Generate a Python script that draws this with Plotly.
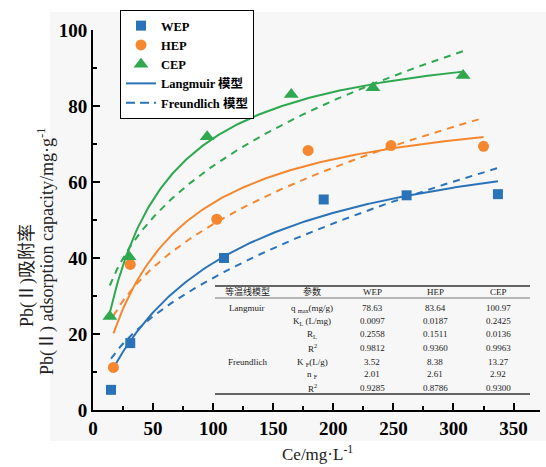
import numpy as np
import plotly.graph_objects as go

# ---------------- data ----------------
series_names = ["WEP", "HEP", "CEP"]
ce_wep = [15, 31, 109, 192, 261, 337]
q_wep = [5.3, 17.6, 40.0, 55.4, 56.5, 56.8]
ce_hep = [17, 31, 103, 179, 248, 325]
q_hep = [11.2, 38.3, 50.2, 68.3, 69.6, 69.4]
ce_cep = [14, 30, 95, 165, 233, 308]
q_cep = [24.6, 40.3, 71.9, 83.0, 84.8, 88.0]

# fitted model parameters used for the curves
lang_qm = [78.63, 83.64, 100.97]
lang_kl = [0.0097, 0.0187, 0.02425]
fr_kf = [3.52, 8.38, 13.27]
fr_n = [2.01, 2.61, 2.92]

x_ticks = [0, 50, 100, 150, 200, 250, 300, 350]
y_ticks = [0, 20, 40, 60, 80, 100]

# table text
tbl_header = ["等温线模型", "参数", "WEP", "HEP", "CEP"]
tbl_model = ["Langmuir", "", "", "", "Freundlich", "", ""]
tbl_param = ["q <sub>max</sub>(mg/g)", "K<sub>L</sub> (L/mg)", "R<sub>L</sub>", "R<sup>2</sup>",
             "K <sub>F</sub>(L/g)", "n <sub>F</sub>", "R<sup>2</sup>"]
tbl_wep = ["78.63", "0.0097", "0.2558", "0.9812", "3.52", "2.01", "0.9285"]
tbl_hep = ["83.64", "0.0187", "0.1511", "0.9360", "8.38", "2.61", "0.8786"]
tbl_cep = ["100.97", "0.2425", "0.0136", "0.9963", "13.27", "2.92", "0.9300"]

# ---------------- styling ----------------
W, H = 546, 467
L, R, T, B = 93, 540, 30, 410
colors = ["#2b73b8", "#f5872f", "#2fa84f"]
symbols = ["square", "circle", "triangle-up"]
msizes = [10, 11, 13]
SERIF = "Liberation Serif, Noto Sans CJK SC, serif"


def px(xp):
    return (xp - L) / (R - L)


def py(yp):
    return (B - yp) / (B - T)


fig = go.Figure()

xs = [ce_wep, ce_hep, ce_cep]
ys = [q_wep, q_hep, q_cep]

for i in range(3):
    c = np.linspace(min(xs[i]), max(xs[i]), 200)
    lang = lang_qm[i] * lang_kl[i] * c / (1 + lang_kl[i] * c)
    fr = fr_kf[i] * c ** (1.0 / fr_n[i])
    fig.add_trace(go.Scatter(x=c, y=lang, mode="lines", showlegend=False,
                             line=dict(color=colors[i], width=2)))
    fig.add_trace(go.Scatter(x=c, y=fr, mode="lines", showlegend=False,
                             line=dict(color=colors[i], width=2, dash="7px,6px")))

for i in range(3):
    fig.add_trace(go.Scatter(x=xs[i], y=ys[i], mode="markers", name=series_names[i],
                             marker=dict(color=colors[i], symbol=symbols[i], size=msizes[i])))

fig.add_trace(go.Scatter(x=[None], y=[None], mode="lines", name="Langmuir 模型",
                         line=dict(color=colors[0], width=2)))
fig.add_trace(go.Scatter(x=[None], y=[None], mode="lines", name="Freundlich 模型",
                         line=dict(color=colors[0], width=2, dash="9px,5px")))

axis_common = dict(
    showline=True, linecolor="black", linewidth=2, showgrid=False, zeroline=False,
    ticks="inside", ticklen=7, tickwidth=2, tickcolor="black",
    tickfont=dict(family=SERIF, size=19, color="black", weight="bold"),
    mirror=False,
)
fig.update_xaxes(range=[0, 372], tickvals=x_ticks,
                 minor=dict(ticks="inside", ticklen=4, tickwidth=2, dtick=25, tickcolor="black"),
                 **axis_common)
fig.update_yaxes(range=[0, 100], tickvals=y_ticks,
                 minor=dict(ticks="inside", ticklen=4, tickwidth=2, dtick=10, tickcolor="black"),
                 **axis_common)

shapes = [
    dict(type="rect", xref="paper", yref="paper", x0=px(50), x1=px(546), y0=py(441), y1=py(12),
         fillcolor="#f7f7f7", line=dict(width=0), layer="below"),
    dict(type="line", xref="paper", yref="paper", x0=px(215), x1=px(530), y0=py(286), y1=py(286),
         line=dict(color="#333", width=1.5)),
    dict(type="line", xref="paper", yref="paper", x0=px(215), x1=px(530), y0=py(298), y1=py(298),
         line=dict(color="#555", width=0.8)),
    dict(type="line", xref="paper", yref="paper", x0=px(215), x1=px(530), y0=py(394), y1=py(394),
         line=dict(color="#333", width=1.5)),
]

annotations = []
col_x = [247, 312, 372, 435, 498]
row_y = [308, 321, 334, 348, 362, 374, 388]
tfont = dict(family=SERIF, size=9, color="#222")
for j, h in enumerate(tbl_header):
    annotations.append(dict(text=h, x=px(col_x[j]), y=py(291.5), xref="paper", yref="paper",
                            showarrow=False, font=tfont, xanchor="center", yanchor="middle"))
cols = [tbl_model, tbl_param, tbl_wep, tbl_hep, tbl_cep]
for j, col in enumerate(cols):
    for k, t in enumerate(col):
        if t:
            annotations.append(dict(text=t, x=px(col_x[j]), y=py(row_y[k]), xref="paper", yref="paper",
                                    showarrow=False, font=tfont, xanchor="center", yanchor="middle"))

annotations.append(dict(text="Pb(Ⅱ)吸附率", x=px(27), y=py(276), xref="paper", yref="paper",
                        textangle=-90, showarrow=False, xanchor="center", yanchor="middle",
                        font=dict(family=SERIF, size=18, color="#222")))
annotations.append(dict(text="Pb(Ⅱ) adsorption capacity/mg·g<sup>-1</sup>", x=px(46), y=py(252),
                        xref="paper", yref="paper", textangle=-90, showarrow=False,
                        xanchor="center", yanchor="middle",
                        font=dict(family=SERIF, size=18, color="#222")))
annotations.append(dict(text="Ce/mg·L<sup>-1</sup>", x=px(317), y=py(453), xref="paper", yref="paper",
                        showarrow=False, xanchor="center", yanchor="middle",
                        font=dict(family=SERIF, size=17, color="#222")))

fig.update_layout(
    width=W, height=H,
    margin=dict(l=L, r=W - R, t=T, b=H - B),
    paper_bgcolor="white", plot_bgcolor="#f7f7f7",
    shapes=shapes, annotations=annotations,
    legend=dict(x=px(120), y=py(10), xanchor="left", yanchor="top",
                bgcolor="white", bordercolor="black", borderwidth=1,
                font=dict(family=SERIF, size=12.5, color="black", weight="bold"),
                tracegroupgap=0, itemwidth=30),
    showlegend=True,
)

fig.write_html("out.html")
